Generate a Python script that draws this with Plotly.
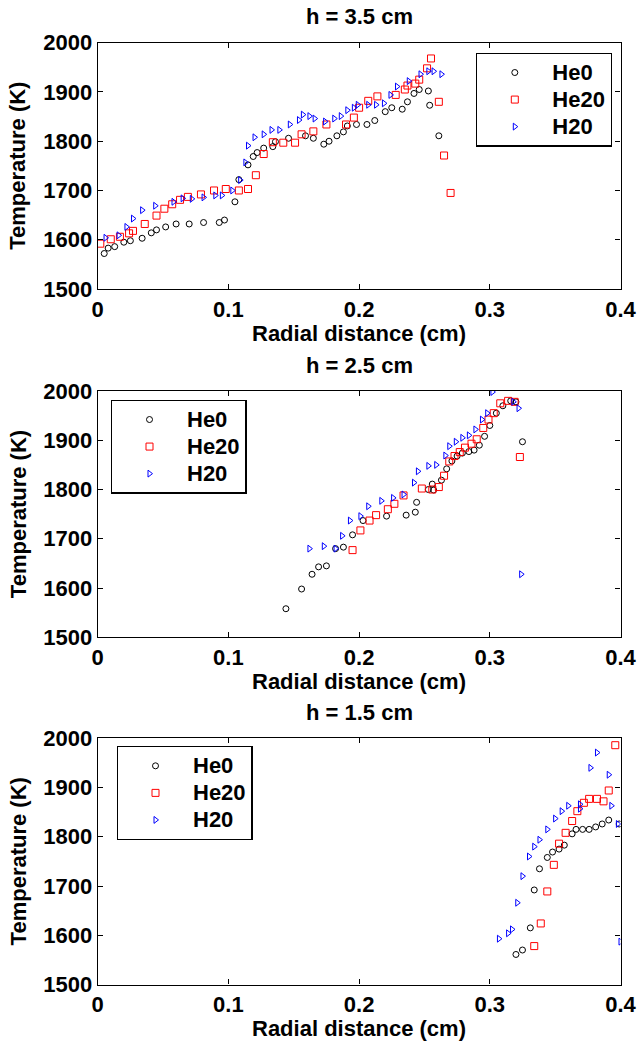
import plotly.graph_objects as go

# ---------------- data ----------------
x_tick_vals = [0, 0.1, 0.2, 0.3, 0.4]
x_tick_text = ["0", "0.1", "0.2", "0.3", "0.4"]
y_tick_vals = [1500, 1600, 1700, 1800, 1900, 2000]
y_tick_text = ["1500", "1600", "1700", "1800", "1900", "2000"]
series_names = ["He0", "He20", "H20"]
panel_titles = ["h = 3.5 cm", "h = 2.5 cm", "h = 1.5 cm"]

# h = 3.5 cm
h35_he0_x = [0.005, 0.008, 0.013, 0.020, 0.025, 0.034, 0.041, 0.045, 0.052, 0.060, 0.070, 0.081, 0.093, 0.097,
             0.105, 0.108, 0.115, 0.119, 0.122, 0.127, 0.134, 0.136, 0.146, 0.159, 0.165, 0.173, 0.177, 0.183,
             0.188, 0.191, 0.198, 0.206, 0.212, 0.220, 0.225, 0.233, 0.237, 0.242, 0.246, 0.253, 0.254, 0.261]
h35_he0_y = [1572, 1583, 1586, 1595, 1598, 1603, 1614, 1620, 1626, 1632, 1632, 1635, 1635, 1640,
             1677, 1722, 1752, 1769, 1777, 1786, 1789, 1799, 1806, 1811, 1806, 1794, 1800, 1811,
             1819, 1831, 1834, 1834, 1842, 1860, 1868, 1865, 1880, 1897, 1905, 1902, 1873, 1811]
h35_he20_x = [0.002, 0.010, 0.017, 0.024, 0.027, 0.036, 0.045, 0.051, 0.057, 0.063, 0.069, 0.079, 0.089, 0.098,
              0.108, 0.115, 0.121, 0.127, 0.134, 0.142, 0.151, 0.156, 0.165, 0.175, 0.190, 0.196, 0.200, 0.207,
              0.214, 0.228, 0.235, 0.237, 0.243, 0.246, 0.252, 0.255, 0.261, 0.265, 0.270]
h35_he20_y = [1592, 1601, 1606, 1613, 1618, 1632, 1649, 1663, 1672, 1681, 1687, 1692, 1700, 1703,
              1700, 1703, 1731, 1774, 1798, 1797, 1797, 1814, 1820, 1834, 1834, 1848, 1868, 1882,
              1891, 1894, 1905, 1913, 1917, 1925, 1948, 1968, 1880, 1771, 1695]
h35_h20_x = [0.006, 0.016, 0.022, 0.027, 0.034, 0.044, 0.058, 0.065, 0.072, 0.081, 0.090, 0.095, 0.103, 0.109,
             0.113, 0.115, 0.120, 0.127, 0.133, 0.139, 0.147, 0.154, 0.157, 0.162, 0.166, 0.174, 0.181, 0.186,
             0.191, 0.196, 0.199, 0.207, 0.213, 0.219, 0.224, 0.229, 0.238, 0.247, 0.253, 0.257, 0.263]
h35_h20_y = [1604, 1609, 1626, 1643, 1660, 1669, 1677, 1684, 1683, 1686, 1690, 1690, 1700, 1721,
             1757, 1791, 1808, 1814, 1823, 1823, 1834, 1843, 1854, 1851, 1846, 1840, 1846, 1851,
             1863, 1868, 1874, 1874, 1874, 1877, 1894, 1911, 1922, 1936, 1942, 1942, 1936]

# h = 2.5 cm
h25_he0_x = [0.144, 0.156, 0.164, 0.169, 0.175, 0.182, 0.188, 0.195, 0.203, 0.221, 0.236, 0.243, 0.244, 0.253,
             0.256, 0.257, 0.263, 0.267, 0.271, 0.275, 0.279, 0.284, 0.288, 0.292, 0.296, 0.300, 0.305, 0.310,
             0.316, 0.320, 0.325]
h25_he0_y = [1558, 1598, 1628, 1643, 1645, 1680, 1683, 1708, 1737, 1746, 1748, 1754, 1774, 1800,
             1811, 1799, 1819, 1842, 1858, 1868, 1874, 1877, 1880, 1890, 1908, 1930, 1955, 1970,
             1980, 1978, 1897]
h25_he20_x = [0.195, 0.201, 0.208, 0.213, 0.222, 0.227, 0.234, 0.248, 0.256, 0.261, 0.265, 0.269, 0.273, 0.277,
              0.281, 0.286, 0.290, 0.295, 0.299, 0.303, 0.308, 0.314, 0.319, 0.323]
h25_he20_y = [1677, 1717, 1737, 1748, 1760, 1771, 1788, 1802, 1800, 1805, 1828, 1857, 1868, 1876,
              1885, 1893, 1902, 1925, 1942, 1955, 1975, 1980, 1978, 1866]
h25_h20_x = [0.162, 0.173, 0.182, 0.187, 0.193, 0.201, 0.207, 0.217, 0.226, 0.234, 0.242, 0.245, 0.253, 0.259,
             0.266, 0.269, 0.274, 0.279, 0.284, 0.289, 0.294, 0.298, 0.302, 0.318, 0.322, 0.324]
h25_h20_y = [1680, 1685, 1680, 1706, 1737, 1746, 1766, 1777, 1783, 1790, 1814, 1837, 1848, 1850,
             1869, 1888, 1897, 1905, 1910, 1922, 1942, 1955, 1998, 1978, 1965, 1628]

# h = 1.5 cm
h15_he0_x = [0.320, 0.325, 0.331, 0.334, 0.338, 0.344, 0.348, 0.353, 0.357, 0.363, 0.366, 0.371, 0.376, 0.381,
             0.386, 0.391, 0.399]
h15_he0_y = [1561, 1570, 1615, 1692, 1735, 1758, 1769, 1775, 1783, 1806, 1815, 1815, 1815, 1820,
             1826, 1834, 1826]
h15_he20_x = [0.334, 0.339, 0.344, 0.349, 0.353, 0.358, 0.363, 0.367, 0.372, 0.376, 0.382, 0.387, 0.391, 0.396]
h15_he20_y = [1578, 1624, 1689, 1743, 1786, 1808, 1832, 1852, 1869, 1877, 1877, 1872, 1894, 1986]
h15_h20_x = [0.307, 0.314, 0.317, 0.321, 0.325, 0.330, 0.334, 0.338, 0.344, 0.350, 0.355, 0.360, 0.369, 0.369,
             0.377, 0.382, 0.391, 0.393, 0.398, 0.400]
h15_h20_y = [1593, 1604, 1612, 1666, 1720, 1760, 1780, 1794, 1815, 1837, 1852, 1863, 1857, 1866,
             1940, 1971, 1926, 1863, 1826, 1587]

panels = [
    [(h35_he0_x, h35_he0_y), (h35_he20_x, h35_he20_y), (h35_h20_x, h35_h20_y)],
    [(h25_he0_x, h25_he0_y), (h25_he20_x, h25_he20_y), (h25_h20_x, h25_h20_y)],
    [(h15_he0_x, h15_he0_y), (h15_he20_x, h15_he20_y), (h15_h20_x, h15_h20_y)],
]

# ---------------- styling ----------------
W, H = 638, 1046
FONT = "Liberation Sans, Arial, sans-serif"
symbols = ["circle-open", "square-open", "triangle-right-open"]
colors = ["#000000", "#ff0000", "#0000ff"]
msizes = [6, 7, 6]

# axes boxes in pixels (left, right, top, bottom)
ax_left, ax_right = 97.7, 620.5
ax_tops = [42.7, 391.0, 738.3]
ax_bots = [289.0, 637.3, 984.5]
# legend boxes (left, top) in pixels
leg_pos = [(476.0, 52.7), (110.7, 399.7), (116.7, 746.0)]

fig = go.Figure()
layout = dict(
    template="none",
    width=W, height=H,
    margin=dict(l=0, r=0, t=0, b=0, autoexpand=False),
    paper_bgcolor="white", plot_bgcolor="white",
    font=dict(family=FONT, size=22, color="black", weight="bold"),
    annotations=[],
)

for i, series in enumerate(panels):
    xa = "x" if i == 0 else f"x{i+1}"
    ya = "y" if i == 0 else f"y{i+1}"
    lg = "legend" if i == 0 else f"legend{i+1}"
    for j, (xs, ys) in enumerate(series):
        fig.add_trace(go.Scatter(
            x=xs, y=ys, mode="markers",
            name=f'<span style="font-size:22px">{series_names[j]}</span>',
            xaxis=xa, yaxis=ya, legend=lg,
            marker=dict(symbol=symbols[j], size=msizes[j], color=colors[j],
                        line=dict(color=colors[j], width=1)),
        ))
    axis_common = dict(
        showline=True, linecolor="black", linewidth=1.3, mirror="ticks",
        ticks="inside", ticklen=5, tickwidth=1, tickcolor="black",
        showgrid=False, zeroline=False, automargin=False,
        tickfont=dict(family=FONT, size=22, color="black", weight="bold"),
    )
    layout["xaxis" if i == 0 else f"xaxis{i+1}"] = dict(
        axis_common, domain=[ax_left / W, ax_right / W], range=[0, 0.4],
        tickmode="array", tickvals=x_tick_vals, ticktext=x_tick_text,
        anchor=ya,
    )
    layout["yaxis" if i == 0 else f"yaxis{i+1}"] = dict(
        axis_common, domain=[1 - ax_bots[i] / H, 1 - ax_tops[i] / H], range=[1500, 2000],
        tickmode="array", tickvals=y_tick_vals, ticktext=y_tick_text,
        anchor=xa,
    )
    lx, ly = leg_pos[i]
    layout[lg] = dict(
        x=lx / W, y=1 - ly / H, xanchor="left", yanchor="top",
        xref="paper", yref="paper",
        bgcolor="white", bordercolor="black", borderwidth=1.3,
        font=dict(family=FONT, size=18.5, color="black", weight="bold"),
        itemwidth=65, tracegroupgap=0,
    )
    cx = (ax_left + ax_right) / 2
    layout["annotations"].append(dict(
        text=panel_titles[i], x=cx / W, y=1 - (ax_tops[i] - 26) / H,
        xref="paper", yref="paper", showarrow=False, xanchor="center", yanchor="middle",
        font=dict(family=FONT, size=22, color="black", weight="bold")))
    layout["annotations"].append(dict(
        text="Radial distance (cm)", x=cx / W, y=1 - (ax_bots[i] + 44) / H,
        xref="paper", yref="paper", showarrow=False, xanchor="center", yanchor="middle",
        font=dict(family=FONT, size=22, color="black", weight="bold")))
    layout["annotations"].append(dict(
        text="Temperature (K)", x=18 / W, y=1 - ((ax_tops[i] + ax_bots[i]) / 2) / H,
        xref="paper", yref="paper", showarrow=False, xanchor="center", yanchor="middle",
        textangle=-90,
        font=dict(family=FONT, size=22, color="black", weight="bold")))

fig.update_layout(**layout)
fig.write_html("out.html")
